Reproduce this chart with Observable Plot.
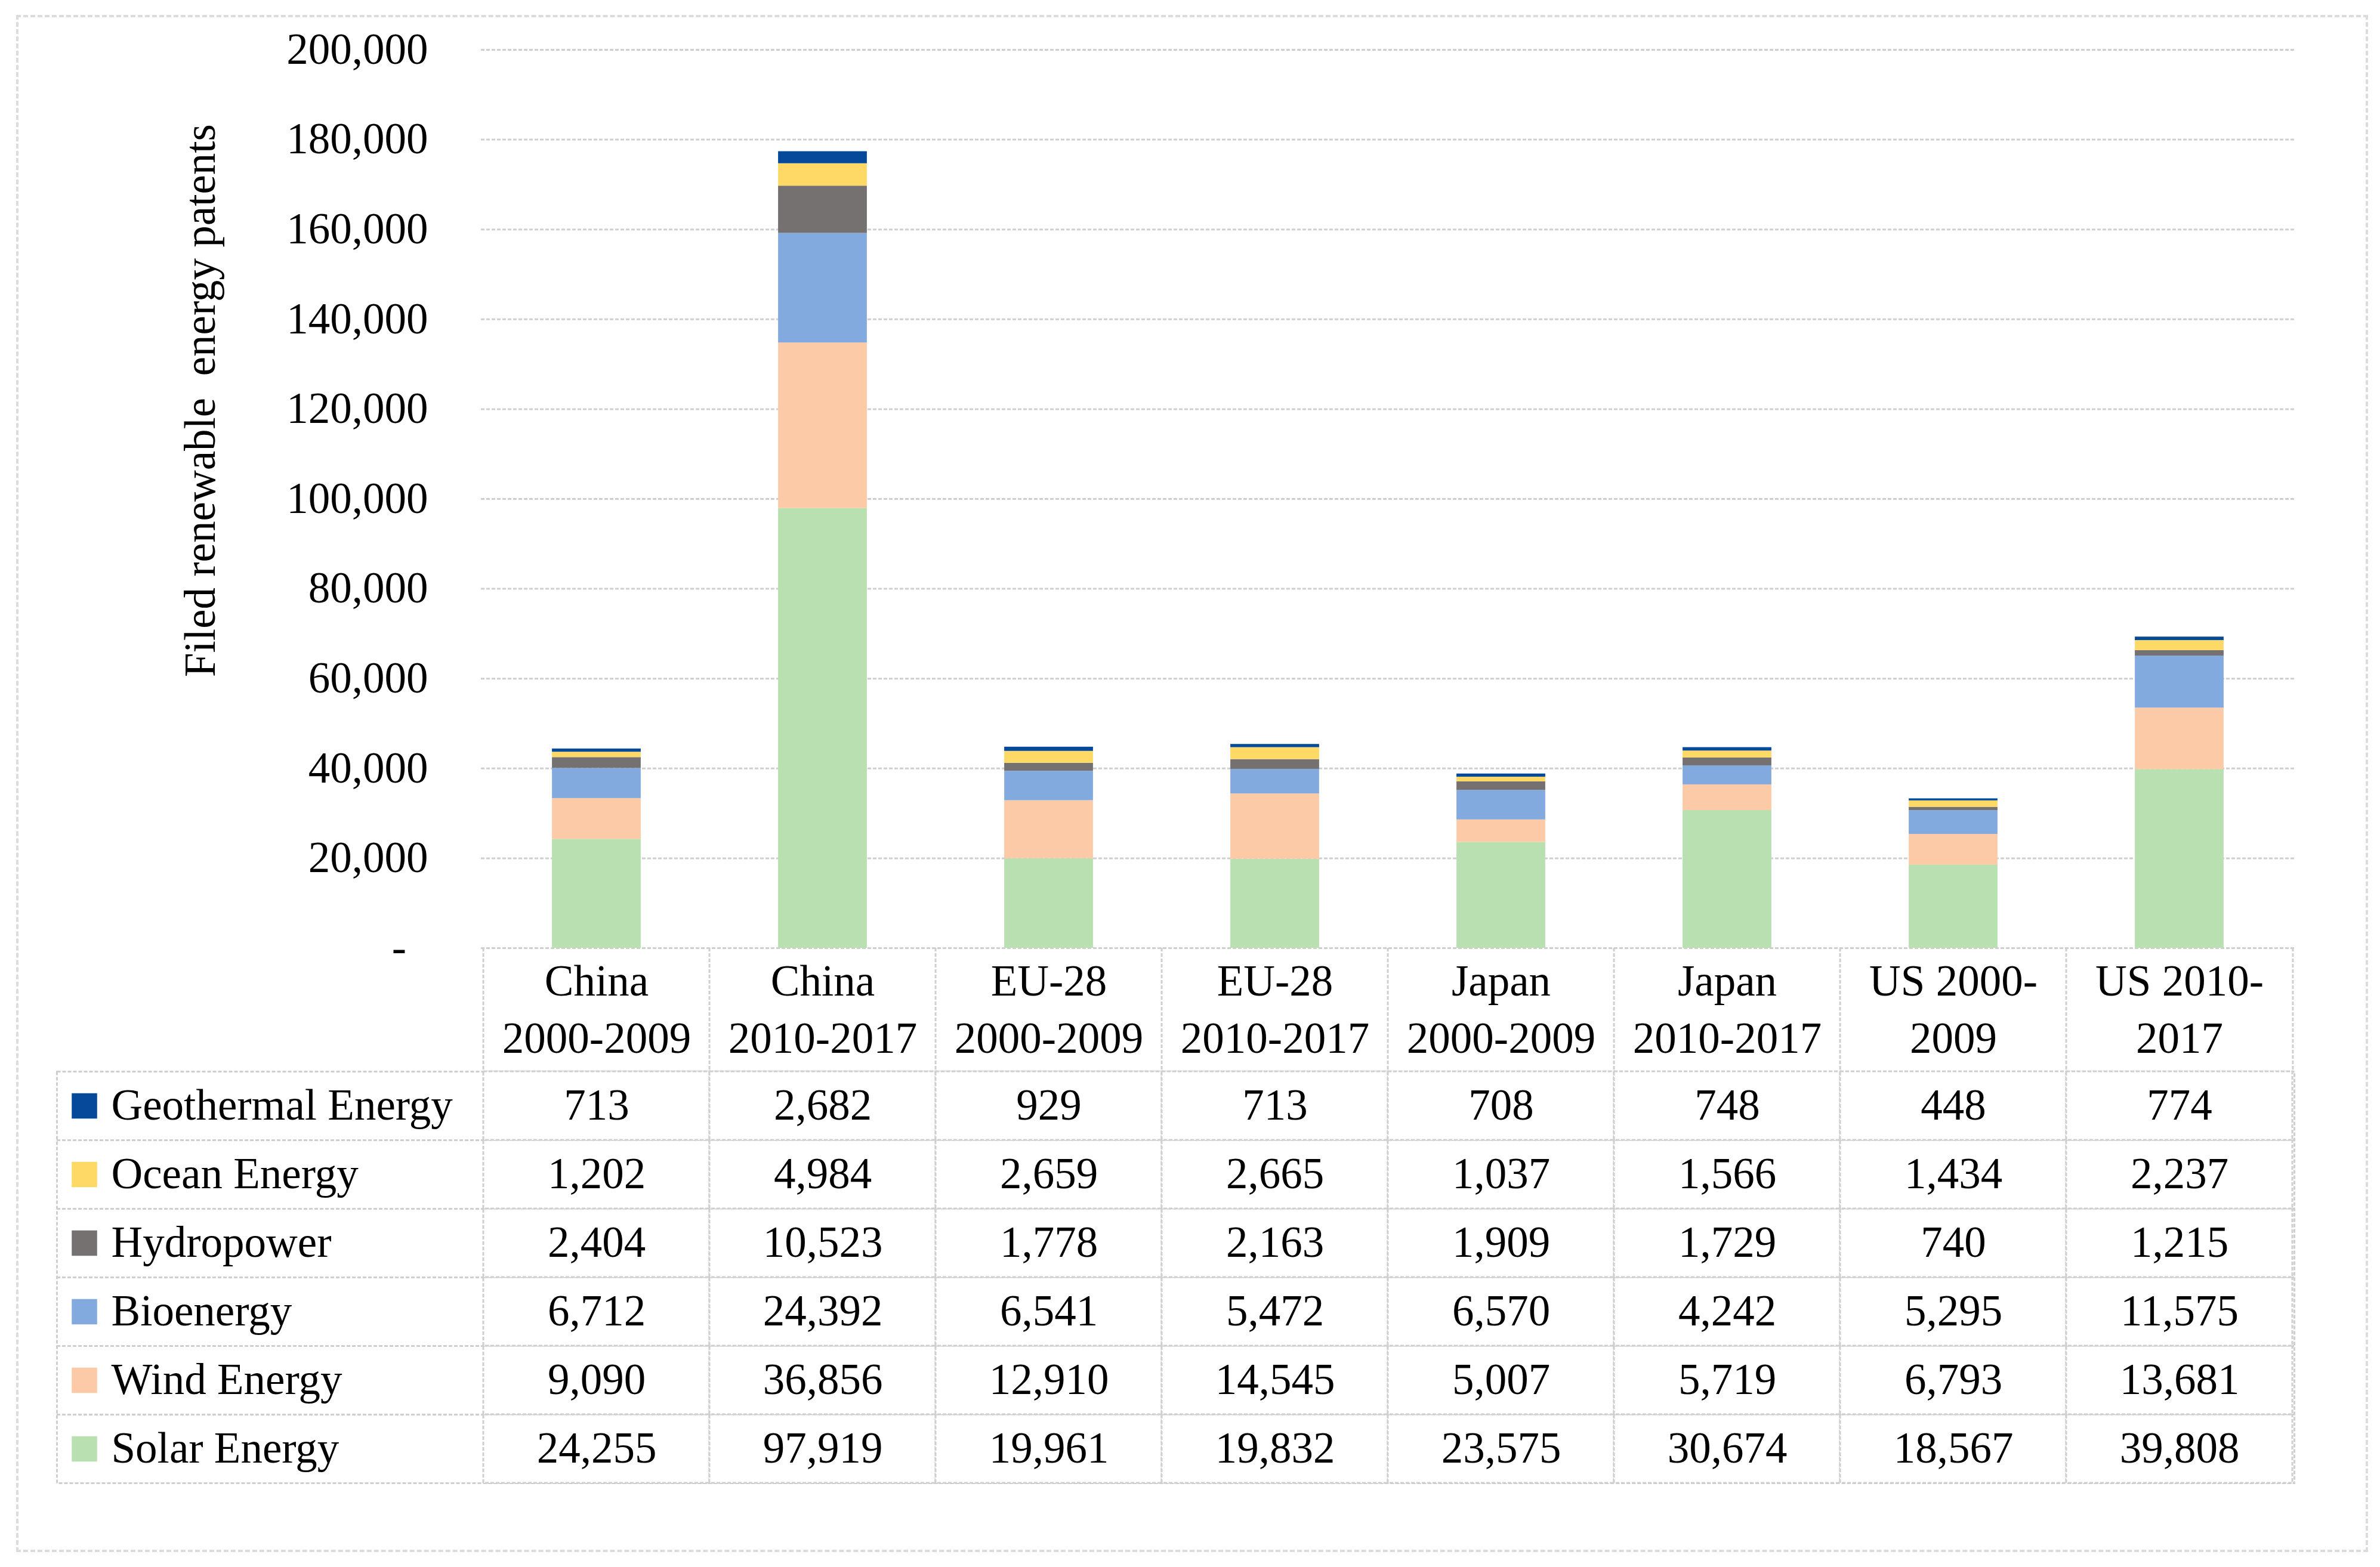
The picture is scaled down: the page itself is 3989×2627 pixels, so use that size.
<!DOCTYPE html>
<html>
<head>
<meta charset="utf-8">
<script src="https://cdn.jsdelivr.net/npm/d3@7"></script>
<script src="https://cdn.jsdelivr.net/npm/@observablehq/plot@0.6"></script>
<style>
  html, body { margin: 0; padding: 0; background: #fff; }
  #wrap { position: relative; width: 3989px; height: 2627px; overflow: hidden; background: #fff; }
  #frame { position: absolute; left: 27px; top: 25px; width: 3942px; height: 2577px; box-sizing: border-box; border: 4px dashed #dcdcdc; }
  #chart { position: absolute; left: 0; top: 0; }
  #table { position: absolute; left: 0; top: 1796px; }
  svg { overflow: visible; }
</style>
</head>
<body>
<div id="wrap">
  <div id="frame"></div>
  <div id="chart"></div>
  <div id="table"></div>
</div>
<script>
// ---- data ----
const periods = ["China 2000-2009", "China 2010-2017", "EU-28 2000-2009", "EU-28 2010-2017",
                 "Japan 2000-2009", "Japan 2010-2017", "US 2000-2009", "US 2010-2017"];
const headerLabels = ["China\n2000-2009", "China\n2010-2017", "EU-28\n2000-2009", "EU-28\n2010-2017",
                      "Japan\n2000-2009", "Japan\n2010-2017", "US 2000-\n2009", "US 2010-\n2017"];
const series = ["Solar Energy", "Wind Energy", "Bioenergy", "Hydropower", "Ocean Energy", "Geothermal Energy"];
const solar = [24255, 97919, 19961, 19832, 23575, 30674, 18567, 39808];
const wind  = [9090, 36856, 12910, 14545, 5007, 5719, 6793, 13681];
const bio   = [6712, 24392, 6541, 5472, 6570, 4242, 5295, 11575];
const hydro = [2404, 10523, 1778, 2163, 1909, 1729, 740, 1215];
const ocean = [1202, 4984, 2659, 2665, 1037, 1566, 1434, 2237];
const geo   = [713, 2682, 929, 713, 708, 748, 448, 774];
const colors = ["#B9E0B1", "#FDCAA8", "#83AADF", "#767171", "#FFD966", "#04499A"];
const yTicks = [0, 20000, 40000, 60000, 80000, 100000, 120000, 140000, 160000, 180000, 200000];
const yTitle = "Filed renewable  energy patents";

// ---- build rows ----
const valuesBySeries = [solar, wind, bio, hydro, ocean, geo];
const rows = [];
periods.forEach((p, i) => {
  series.forEach((s, j) => rows.push({period: p, series: s, value: valuesBySeries[j][i]}));
});

const FONT = "'Liberation Serif', 'Times New Roman', serif";
const FS = 73;
const W = 3989;
const ML = 806, MR = 144;
const step = (W - ML - MR) / periods.length;
const barInset = step * 0.303;
const gridStroke = "#cfcfcf";
const dash = "6,3";
const fmt = d3.format(",");

const chart = Plot.plot({
  width: W,
  height: 1796,
  marginTop: 83,
  marginBottom: 207,
  marginLeft: ML,
  marginRight: MR,
  style: {fontFamily: FONT, fontSize: FS + "px", color: "#000", background: "transparent", overflow: "visible"},
  x: {domain: periods, padding: 0},
  y: {domain: [0, 200000]},
  color: {domain: series, range: colors},
  marks: [
    Plot.ruleY(yTicks, {stroke: gridStroke, strokeWidth: 3, strokeDasharray: dash, strokeOpacity: 1}),
    Plot.barY(rows, {x: "period", y: "value", fill: "series", insetLeft: barInset, insetRight: barInset}),
    Plot.axisY(yTicks, {
      tickSize: 0, tickPadding: 89, fontSize: FS, fontFamily: FONT, label: null,
      tickFormat: d => d === 0 ? "-\u00a0\u00a0" : fmt(d)
    }),
    Plot.axisX({
      tickSize: 0, tickPadding: 11, fontSize: FS, fontFamily: FONT, lineHeight: 1.32, label: null,
      tickFormat: d => headerLabels[periods.indexOf(d)]
    }),
    // header cell borders
    Plot.ruleX(periods, {x: d => d, y1: 0, y2: 0, dx: -step / 2, insetBottom: -207,
      stroke: gridStroke, strokeWidth: 3, strokeDasharray: dash, strokeOpacity: 1}),
    Plot.ruleX(periods.slice(-1), {x: d => d, y1: 0, y2: 0, dx: step / 2, insetBottom: -207,
      stroke: gridStroke, strokeWidth: 3, strokeDasharray: dash, strokeOpacity: 1}),
    Plot.text([yTitle], {frameAnchor: "top-left", dx: 336 - ML, dy: 671 - 83, rotate: -90,
      text: d => d, fontSize: FS, fontFamily: FONT, textAnchor: "middle", lineAnchor: "middle"})
  ]
});
document.getElementById("chart").append(chart);

// ---- data table with legend column ----
const seriesTop = [...series].reverse();
const table = Plot.plot({
  width: W,
  height: 690,
  marginTop: 0,
  marginBottom: 0,
  marginLeft: ML,
  marginRight: MR,
  style: {fontFamily: FONT, fontSize: FS + "px", color: "#000", background: "transparent", overflow: "visible"},
  x: {domain: periods, padding: 0, axis: null},
  y: {domain: seriesTop, padding: 0, axis: null},
  color: {domain: series, range: colors},
  marks: [
    Plot.frame({insetLeft: -(ML - 95), stroke: gridStroke, strokeWidth: 3, strokeDasharray: dash, strokeOpacity: 1}),
    Plot.ruleY(seriesTop.slice(1), {y: d => d, dy: -690 / 12, insetLeft: -(ML - 95),
      stroke: gridStroke, strokeWidth: 3, strokeDasharray: dash, strokeOpacity: 1}),
    Plot.cell(rows, {x: "period", y: "series", fill: "white", inset: 0,
      stroke: gridStroke, strokeWidth: 3, strokeDasharray: dash, strokeOpacity: 1}),
    Plot.text(rows, {x: "period", y: "series", text: d => fmt(d.value), fontSize: FS, fontFamily: FONT, fill: "#000"}),
    Plot.dot(seriesTop, {y: d => d, frameAnchor: "left", dx: 141 - ML, symbol: "square", r: 24, fill: d => d, stroke: "none"}),
    Plot.text(seriesTop, {y: d => d, text: d => d, frameAnchor: "left", dx: 186 - ML, textAnchor: "start",
      fontSize: FS, fontFamily: FONT, fill: "#000"})
  ]
});
document.getElementById("table").append(table);
</script>
</body>
</html>
